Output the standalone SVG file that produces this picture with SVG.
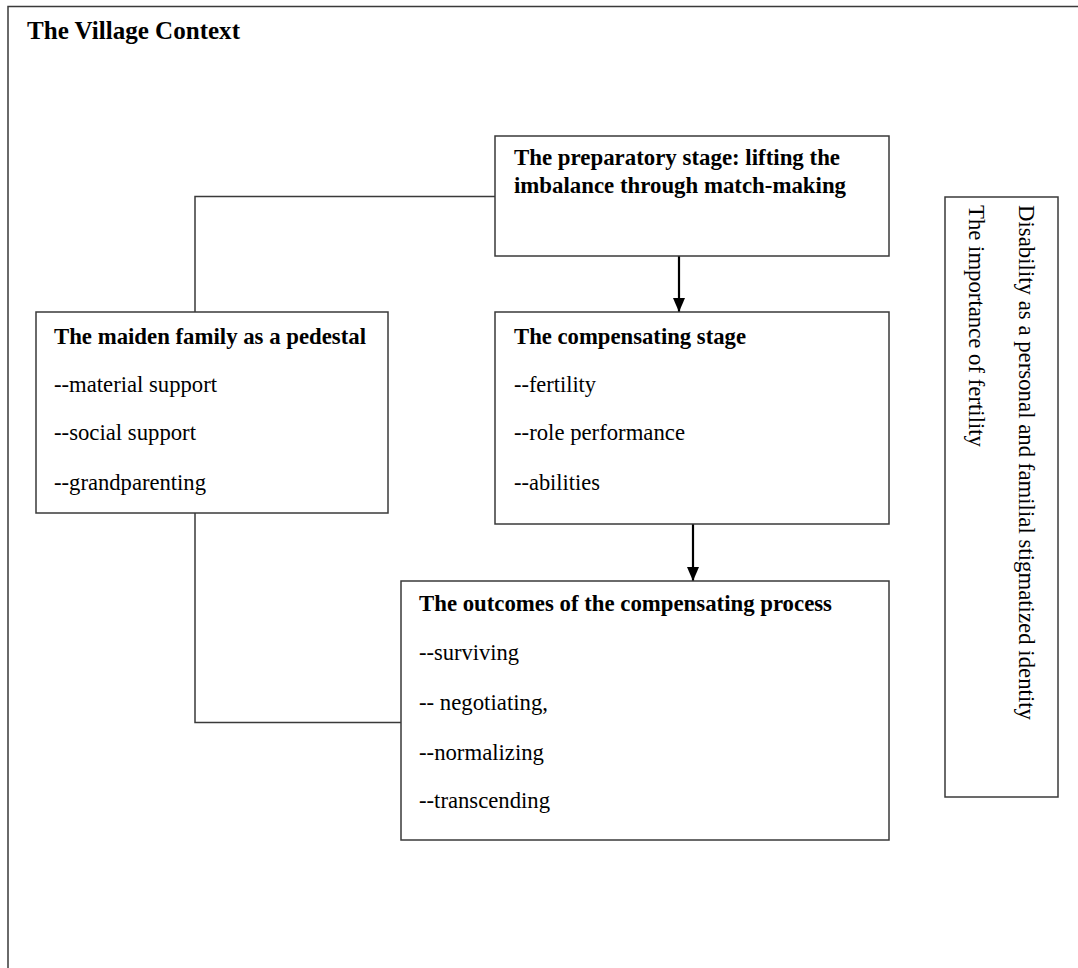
<svg xmlns="http://www.w3.org/2000/svg" width="1078" height="968" viewBox="0 0 1078 968">
  <style>
    .box { fill: #fff; stroke: #3a3a3a; stroke-width: 1.5; }
    .frame { fill: none; stroke: #3a3a3a; stroke-width: 1.5; }
    .link { fill: none; stroke: #3a3a3a; stroke-width: 1.5; }
    .flow { fill: none; stroke: #000; stroke-width: 2.2; }
    .ttl { font-family: "Liberation Serif", "Times New Roman", serif; font-weight: bold; font-size: 22.5px; fill: #000; }
    .itm { font-family: "Liberation Serif", "Times New Roman", serif; font-size: 22.5px; fill: #000; }
  </style>
  <defs>
    <marker id="arrow" viewBox="0 0 14 12" refX="14" refY="6" markerWidth="14" markerHeight="12" markerUnits="userSpaceOnUse" orient="auto">
      <path d="M0,0 L14,6 L0,12 Z" fill="#000"/>
    </marker>
  </defs>

  <rect width="1078" height="968" fill="#fff"/>

  <!-- outer context frame -->
  <g id="context">
    <path class="frame" d="M8,968 L8,6.5 L1078,6.5"/>
    <text class="ttl" x="27" y="39" style="font-size:25.5px" textLength="213" lengthAdjust="spacingAndGlyphs">The Village Context</text>
  </g>

  <!-- connectors -->
  <g id="connectors">
    <path class="link" d="M495,196.5 L195,196.5 L195,312"/>
    <path class="link" d="M195,513 L195,722.5 L401,722.5"/>
    <path class="flow" d="M679,256 L679,312" marker-end="url(#arrow)"/>
    <path class="flow" d="M693,524 L693,581" marker-end="url(#arrow)"/>
  </g>

  <g id="preparatory">
    <rect class="box" x="495" y="136" width="394" height="120"/>
    <text class="ttl" x="514" y="165" textLength="326" lengthAdjust="spacingAndGlyphs">The preparatory stage: lifting the</text>
    <text class="ttl" x="514" y="193" textLength="332" lengthAdjust="spacingAndGlyphs">imbalance through match-making</text>
  </g>

  <g id="maiden-family">
    <rect class="box" x="36" y="312" width="352" height="201"/>
    <text class="ttl" x="54" y="344" textLength="312" lengthAdjust="spacingAndGlyphs">The maiden family as a pedestal</text>
    <text class="itm" x="54" y="392" textLength="163" lengthAdjust="spacingAndGlyphs">--material support</text>
    <text class="itm" x="54" y="440" textLength="142" lengthAdjust="spacingAndGlyphs">--social support</text>
    <text class="itm" x="54" y="490" textLength="152" lengthAdjust="spacingAndGlyphs">--grandparenting</text>
  </g>

  <g id="compensating">
    <rect class="box" x="495" y="312" width="394" height="212"/>
    <text class="ttl" x="514" y="344" textLength="232" lengthAdjust="spacingAndGlyphs">The compensating stage</text>
    <text class="itm" x="514" y="392" textLength="82" lengthAdjust="spacingAndGlyphs">--fertility</text>
    <text class="itm" x="514" y="440" textLength="171" lengthAdjust="spacingAndGlyphs">--role performance</text>
    <text class="itm" x="514" y="490" textLength="86" lengthAdjust="spacingAndGlyphs">--abilities</text>
  </g>

  <g id="outcomes">
    <rect class="box" x="401" y="581" width="488" height="259"/>
    <text class="ttl" x="419" y="611" textLength="413" lengthAdjust="spacingAndGlyphs">The outcomes of the compensating process</text>
    <text class="itm" x="419" y="660" textLength="100" lengthAdjust="spacingAndGlyphs">--surviving</text>
    <text class="itm" x="419" y="710" textLength="129" lengthAdjust="spacingAndGlyphs">-- negotiating,</text>
    <text class="itm" x="419" y="760" textLength="125" lengthAdjust="spacingAndGlyphs">--normalizing</text>
    <text class="itm" x="419" y="808" textLength="131" lengthAdjust="spacingAndGlyphs">--transcending</text>
  </g>

  <g id="identity">
    <rect class="box" x="945" y="197" width="113" height="600"/>
    <text class="itm" transform="translate(1019,205) rotate(90)" textLength="515" lengthAdjust="spacingAndGlyphs">Disability as a personal and familial stigmatized identity</text>
    <text class="itm" transform="translate(969,205) rotate(90)" textLength="242" lengthAdjust="spacingAndGlyphs">The importance of fertility</text>
  </g>
</svg>
